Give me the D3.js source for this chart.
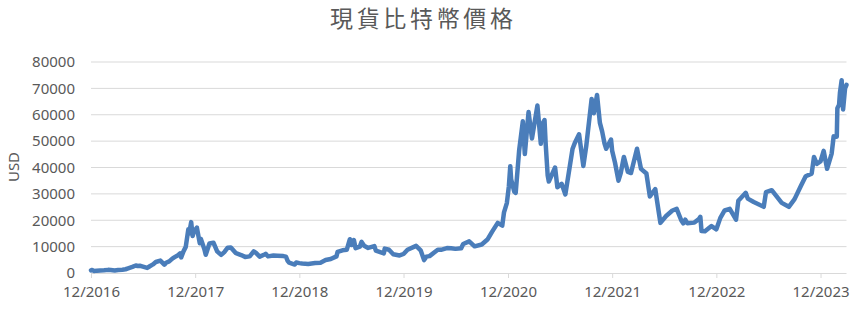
<!DOCTYPE html>
<html><head><meta charset="utf-8">
<script src="https://cdn.jsdelivr.net/npm/d3@7/dist/d3.min.js"></script>
<style>body{margin:0;background:#fff;}svg{display:block;}</style>
</head><body>
<svg id="chart" width="865" height="313"></svg>
<script>
const title = "現貨比特幣價格";
const yLabel = "USD";
const yTicks = [0,10000,20000,30000,40000,50000,60000,70000,80000];
const xTickDates = ["2016-12-31","2017-12-31","2018-12-31","2019-12-31","2020-12-31","2021-12-31","2022-12-31","2023-12-31"];
const xTickLabels = ["12/2016","12/2017","12/2018","12/2019","12/2020","12/2021","12/2022","12/2023"];
const dates = [
"2016-12-31","2017-01-04","2017-01-11","2017-01-20","2017-02-01","2017-02-15","2017-03-01","2017-03-10","2017-03-24","2017-04-05","2017-04-20","2017-05-01","2017-05-10","2017-05-25","2017-06-06","2017-06-12","2017-06-20","2017-07-01","2017-07-16","2017-07-25","2017-08-05","2017-08-15","2017-08-31","2017-09-14","2017-09-20","2017-10-01","2017-10-12","2017-10-20","2017-11-01","2017-11-08","2017-11-12","2017-11-20","2017-11-28","2017-12-07","2017-12-10","2017-12-17","2017-12-22","2017-12-27",
"2018-01-06","2018-01-16","2018-01-20","2018-02-01","2018-02-06","2018-02-19","2018-03-05","2018-03-18","2018-04-01","2018-04-12","2018-04-24","2018-05-05","2018-05-23","2018-06-10","2018-06-24","2018-07-10","2018-07-24","2018-08-01","2018-08-14","2018-08-31","2018-09-04","2018-09-12","2018-10-01","2018-10-15","2018-11-05","2018-11-14","2018-11-20","2018-11-25","2018-12-15","2018-12-20","2018-12-31",
"2019-01-10","2019-01-31","2019-02-24","2019-03-15","2019-04-02","2019-04-20","2019-05-10","2019-05-14","2019-05-31","2019-06-15","2019-06-26","2019-07-02","2019-07-10","2019-07-16","2019-07-31","2019-08-06","2019-08-15","2019-08-29","2019-09-20","2019-09-25","2019-10-23","2019-10-26","2019-11-10","2019-11-25","2019-12-17","2019-12-31",
"2020-01-14","2020-02-13","2020-02-29","2020-03-12","2020-03-20","2020-03-31","2020-04-29","2020-05-10","2020-05-31","2020-06-15","2020-06-30","2020-07-20","2020-07-27","2020-08-17","2020-09-05","2020-09-30","2020-10-21","2020-11-05","2020-11-25","2020-12-11","2020-12-17","2020-12-27",
"2021-01-03","2021-01-08","2021-01-11","2021-01-22","2021-01-27","2021-02-08","2021-02-21","2021-02-28","2021-03-13","2021-03-25","2021-04-13","2021-04-25","2021-05-03","2021-05-08","2021-05-12","2021-05-19","2021-05-23","2021-06-14","2021-06-22","2021-07-07","2021-07-20","2021-08-14","2021-08-22","2021-09-06","2021-09-21","2021-10-01","2021-10-20","2021-10-28","2021-11-08","2021-11-18","2021-11-26","2021-12-04","2021-12-10","2021-12-27","2021-12-31",
"2022-01-10","2022-01-22","2022-01-30","2022-02-10","2022-02-24","2022-03-07","2022-03-28","2022-04-11","2022-04-30","2022-05-12","2022-05-31","2022-06-13","2022-06-18","2022-07-08","2022-07-30","2022-08-14","2022-08-30","2022-09-06","2022-09-13","2022-09-20","2022-10-15","2022-10-31","2022-11-05","2022-11-09","2022-11-21","2022-12-14","2022-12-31",
"2023-01-14","2023-01-29","2023-02-16","2023-03-10","2023-03-18","2023-04-13","2023-04-20","2023-05-11","2023-06-15","2023-06-23","2023-07-13","2023-08-17","2023-09-11","2023-10-01","2023-10-23","2023-11-09","2023-11-30","2023-12-08","2023-12-18","2023-12-31",
"2024-01-11","2024-01-23","2024-02-08","2024-02-15","2024-02-26","2024-02-28","2024-03-05","2024-03-08","2024-03-14","2024-03-19","2024-03-26","2024-03-31"];
const prices = [
998,1150,785,895,990,1010,1190,1115,935,1130,1240,1420,1750,2300,2860,2650,2760,2430,1930,2560,3250,4170,4700,3150,3900,4400,5450,6000,6750,7450,5900,8200,9900,16600,15000,19300,14000,15800,
17200,11300,12900,9100,6900,11200,11500,8200,6850,7900,9600,9700,7500,6800,6100,6300,8200,7600,6200,7000,7300,6300,6600,6500,6400,6200,4600,3900,3200,4000,3750,
3600,3450,3750,3900,4900,5300,6300,8000,8600,8800,12800,10600,12500,9400,10000,11800,10300,9500,10200,8500,7450,9250,8800,7100,6650,7200,
8800,10300,8600,4900,6200,6400,8800,8800,9450,9400,9150,9400,11000,12000,10100,10800,12800,15600,19000,18000,23000,26500,
32800,40500,35500,30800,30400,46400,57500,45100,61000,51000,63500,49000,57000,58000,49000,37000,34700,40000,32500,33800,29800,47000,49300,52600,40600,48000,66000,60600,67500,56900,53600,49200,47100,50600,46300,
41800,35000,37900,44000,38300,37900,47100,39500,37700,29000,31800,22500,19000,21600,23700,24300,20000,18800,20200,18900,19100,20500,21300,15900,15800,17800,16550,
20900,23700,24300,20200,27400,30400,28200,26900,25100,30700,31400,26600,25100,28000,33000,36700,37700,44000,41400,42300,
46300,39500,45300,51800,51700,62500,63800,68300,73100,62000,70000,71300];

const parse = d3.timeParse("%Y-%m-%d");
const data = dates.map((d,i)=>({date: parse(d), value: prices[i]}));

const svg = d3.select("#chart");
const pLeft = 91, pRight = 846.5, pTop = 62, pBottom = 273;
const x = d3.scaleTime().domain([parse("2016-12-31"), parse("2024-03-31")]).range([pLeft, pRight]);
const y = d3.scaleLinear().domain([0, 80000]).range([pBottom, pTop]);
const txt = "#595959", grid = "#d9d9d9";
const font = "'Noto Sans', 'Open Sans', sans-serif";

// gridlines
svg.append("g").selectAll("line").data(yTicks.filter(t=>t>0)).join("line")
  .attr("x1", pLeft).attr("x2", pRight)
  .attr("y1", d=>y(d)).attr("y2", d=>y(d))
  .attr("stroke", grid).attr("stroke-width", 1);

// y axis labels
const yAxis = d3.axisLeft(y).tickValues(yTicks).tickSize(0).tickPadding(16).tickFormat(d3.format("d"));
const gy = svg.append("g").attr("transform", `translate(${pLeft},0)`).call(yAxis);
gy.select(".domain").remove();
gy.selectAll("text").attr("fill", txt).style("font-family", font).style("font-size", "15px");

// x axis
const xAxis = d3.axisBottom(x).tickValues(xTickDates.map(parse)).tickSize(5).tickPadding(8)
  .tickFormat((d,i)=>xTickLabels[i]);
const gx = svg.append("g").attr("transform", `translate(0,${pBottom})`).call(xAxis);
gx.select(".domain").attr("stroke", grid).attr("d", `M${pLeft},0.5H${pRight}`);
gx.selectAll(".tick line").attr("stroke", grid);
gx.selectAll("text").attr("fill", txt).style("font-family", font).style("font-size", "15px");

// line
const line = d3.line().x(d=>x(d.date)).y(d=>y(d.value)).curve(d3.curveLinear);
svg.append("path").datum(data).attr("d", line)
  .attr("fill", "none").attr("stroke", "#4a7dba").attr("stroke-width", 4.5)
  .attr("stroke-linejoin", "round").attr("stroke-linecap", "round");

// title
svg.append("text").attr("x", 421.5).attr("y", 27).attr("text-anchor", "middle")
  .attr("fill", txt).style("font-family", "'Noto Sans CJK TC', sans-serif").style("font-size", "23px")
  .attr("textLength", 183).attr("lengthAdjust", "spacing")
  .text(title);

// y label
svg.append("text").attr("transform", "translate(19,167) rotate(-90)").attr("text-anchor", "middle")
  .attr("fill", txt).style("font-family", font).style("font-size", "15px").text(yLabel);
</script>
</body></html>
